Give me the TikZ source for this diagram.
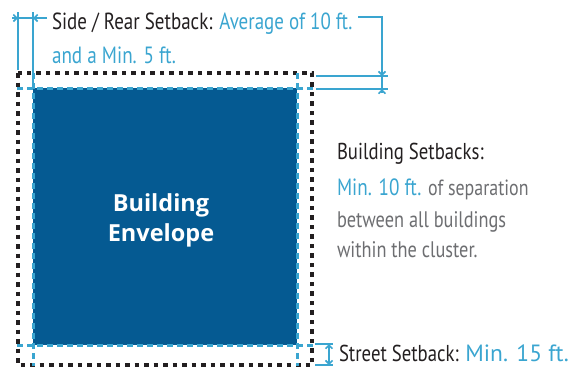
\documentclass[tikz,border=0pt]{standalone}
\usepackage{fontspec}
\usetikzlibrary{arrows.meta}
\newfontfamily\condf[FakeStretch=0.815]{PT Sans}
\newfontfamily\regf{PT Sans}
\newfontfamily\boldf{Open Sans}
\definecolor{envblue}{RGB}{5,90,146}
\definecolor{lineblue}{RGB}{58,165,208}
\definecolor{darktxt}{RGB}{35,31,32}
\definecolor{graytxt}{RGB}{109,110,113}
\tikzset{
  blackdots/.style={draw=darktxt,line width=3.6pt,dash pattern=on 4.5pt off 5pt},
  bluedash/.style={draw=lineblue,line width=3pt,dash pattern=on 6pt off 4pt},
  dimline/.style={draw=lineblue,line width=2.3pt},
  tip/.style={-{Straight Barb[length=3.5pt,width=7pt,line width=1.6pt]}},
  lbl/.style={anchor=base west,inner sep=0pt,outer sep=0pt},
}
\begin{document}
\begin{tikzpicture}[x=1pt,y=-1pt]
\useasboundingbox (0,0) rectangle (575,368);
% envelope
\node[fill=envblue,minimum width=264pt,minimum height=257pt,inner sep=0pt,anchor=north west] (env) at (33,88) {};
\node[align=center,text=white,font=\boldf\bfseries\fontsize{23.5}{30}\selectfont] (envt) at (161,220) {Building\\Envelope};
% black dotted outline
\coordinate (b1) at (18,73);
\coordinate (b2) at (312,365);
\draw[blackdots] (b1) rectangle (b2);
% blue dashed lines
\coordinate (vl1) at (33,73); \coordinate (vl2) at (33,366);
\coordinate (vr1) at (297,73); \coordinate (vr2) at (297,366);
\coordinate (ht1) at (17,88); \coordinate (ht2) at (313,88);
\coordinate (hb1) at (17,345); \coordinate (hb2) at (313,345);
\draw[bluedash] (vl1) -- (vl2);
\draw[bluedash] (vr1) -- (vr2);
\draw[bluedash] (ht1) -- (ht2);
\draw[bluedash] (hb1) -- (hb2);
% top-left dimension
\coordinate (tl1) at (18,12); \coordinate (tl1b) at (18,70);
\coordinate (tl2) at (33,12); \coordinate (tl2b) at (33,85);
\coordinate (tlh0) at (12,18); \coordinate (tlha) at (18,18);
\coordinate (tlhb) at (33,18); \coordinate (tlh1) at (47,18);
\draw[dimline] (tl1) -- (tl1b);
\draw[dimline] (tl2) -- (tl2b);
\draw[dimline] (tlh0) -- (tlh1);
\draw[dimline,tip] (tlh0) -- (tlha);
\draw[dimline,tip] (tlh1) -- (tlhb);
% top-right dimension
\coordinate (tr0) at (358,17); \coordinate (tr1) at (382,17);
\coordinate (tra) at (382,76); \coordinate (trb) at (382,89); \coordinate (tr2) at (382,93);
\coordinate (e1a) at (316,76); \coordinate (e1b) at (388,76);
\coordinate (e2a) at (316,89); \coordinate (e2b) at (388,89);
\draw[dimline] (tr0) -- (tr1) -- (tr2);
\draw[dimline] (e1a) -- (e1b);
\draw[dimline] (e2a) -- (e2b);
\draw[dimline,tip] (tr1) -- (tra);
\draw[dimline,tip] (tr2) -- (trb);
% street setback bracket
\coordinate (s1a) at (315,344); \coordinate (s1b) at (333,344);
\coordinate (s2a) at (315,365); \coordinate (s2b) at (333,365);
\coordinate (sv1) at (329,344); \coordinate (sv2) at (329,365);
\draw[dimline] (s1a) -- (s1b);
\draw[dimline] (s2a) -- (s2b);
\draw[dimline,tip] (sv2) -- (sv1);
\draw[dimline,tip] (sv1) -- (sv2);
% texts
\node[lbl,font=\condf\fontsize{23.3}{23}\selectfont] (side1) at (52,29) {\textcolor{darktxt}{Side / Rear Setback:} \textcolor{lineblue}{Average of 10 ft.}};
\node[lbl,font=\condf\fontsize{23.5}{23}\selectfont,text=lineblue] (side2) at (52,63) {and a Min. 5 ft.};
\node[lbl,font=\condf\fontsize{23}{23}\selectfont,text=darktxt] (bs1) at (337,159) {Building Setbacks:};
\node[lbl,font=\condf\fontsize{23.5}{23}\selectfont] (bs2) at (337,195) {\textcolor{lineblue}{Min. 10 ft.} \textcolor{graytxt}{\fontsize{22}{22}\selectfont of separation}};
\node[lbl,font=\condf\fontsize{22.5}{22}\selectfont,text=graytxt] (bs3) at (337,227) {between all buildings};
\node[lbl,font=\condf\fontsize{22.5}{22}\selectfont,text=graytxt] (bs4) at (337,257) {within the cluster.};
\node[lbl,font=\condf\fontsize{23}{23}\selectfont] (st) at (339,361) {\textcolor{darktxt}{Street Setback:} \textcolor{lineblue}{\regf\fontsize{23.5}{22}\selectfont Min. 15 ft.}};
\end{tikzpicture}
\end{document}
